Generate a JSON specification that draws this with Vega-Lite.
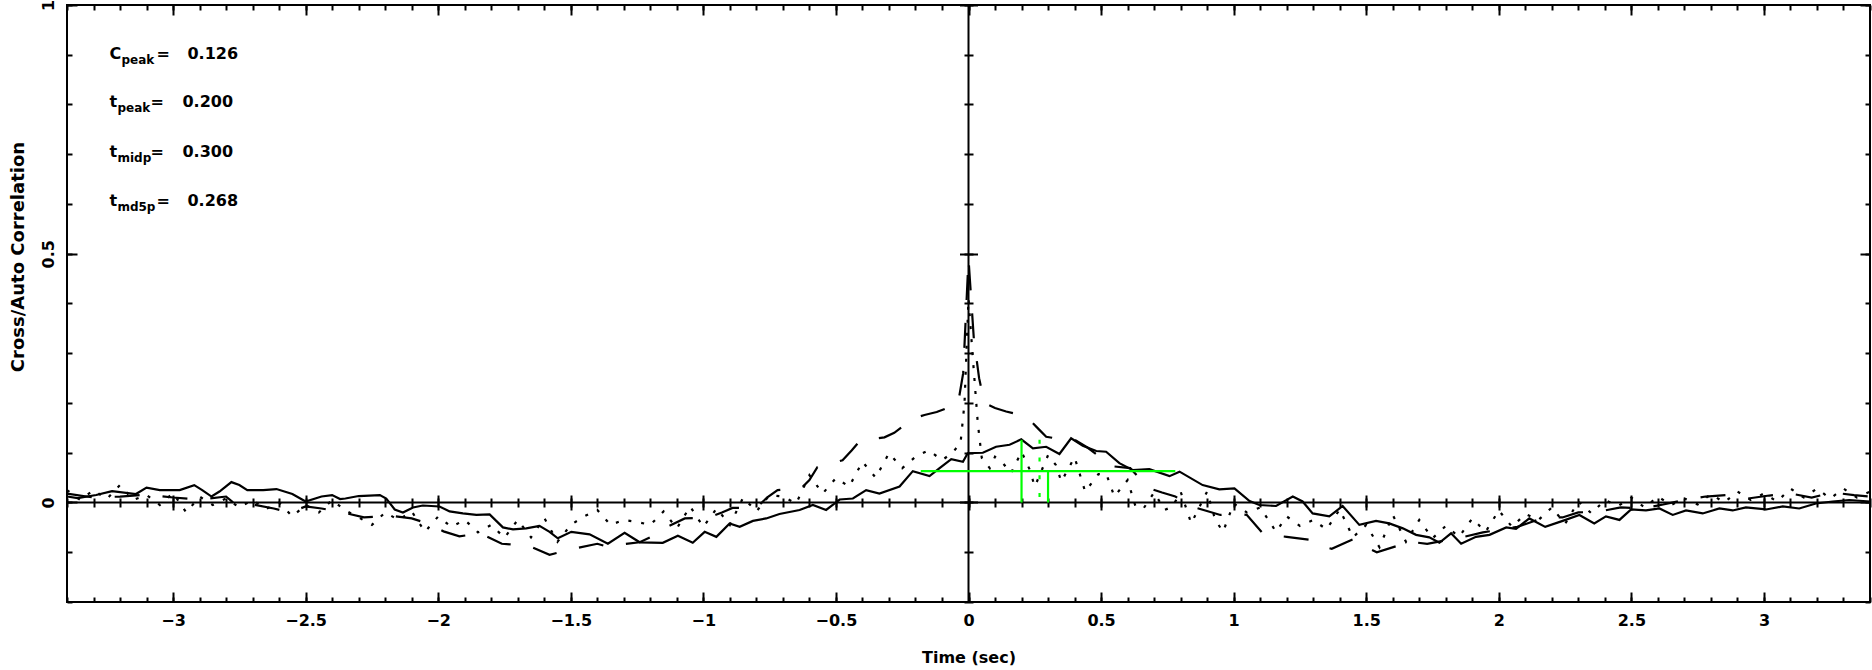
{
"$schema": "https://vega.github.io/schema/vega-lite/v6.json",
"width": 1803, "height": 597,
"autosize": {"type": "none"},
"padding": {"left": 67, "top": 5, "right": 2, "bottom": 68},
"background": "white",
"config": {
 "view": {"stroke": "black", "strokeWidth": 2},
 "axis": {"labelFont": "DejaVu Sans", "labelFontWeight": "bold", "labelFontSize": 16, "labelColor": "black",
  "titleFont": "DejaVu Sans", "titleFontWeight": "bold", "titleColor": "black", "tickColor": "black", "tickWidth": 2,
  "domain": false, "grid": false, "labelFlush": false, "labelOverlap": false, "zindex": 1}
},
"datasets": {
 "curves": [
  {"s":"cross","t":-3.4,"c":0.012},{"s":"cross","t":-3.36,"c":0.009},{"s":"cross","t":-3.29,"c":0.015},{"s":"cross","t":-3.23,"c":0.023},{"s":"cross","t":-3.14,"c":0.017},{"s":"cross","t":-3.1,"c":0.03},{"s":"cross","t":-3.05,"c":0.025},{"s":"cross","t":-2.975,"c":0.025},{"s":"cross","t":-2.92,"c":0.035},{"s":"cross","t":-2.89,"c":0.025},{"s":"cross","t":-2.855,"c":0.012},{"s":"cross","t":-2.825,"c":0.022},{"s":"cross","t":-2.78,"c":0.041},{"s":"cross","t":-2.75,"c":0.035},{"s":"cross","t":-2.72,"c":0.025},{"s":"cross","t":-2.66,"c":0.025},{"s":"cross","t":-2.61,"c":0.027},{"s":"cross","t":-2.55,"c":0.017},{"s":"cross","t":-2.5,"c":0.002},{"s":"cross","t":-2.44,"c":0.012},{"s":"cross","t":-2.4,"c":0.015},{"s":"cross","t":-2.37,"c":0.007},{"s":"cross","t":-2.35,"c":0.008},{"s":"cross","t":-2.3,"c":0.013},{"s":"cross","t":-2.22,"c":0.015},{"s":"cross","t":-2.196,"c":0.008},{"s":"cross","t":-2.164,"c":-0.014},{"s":"cross","t":-2.133,"c":-0.02},{"s":"cross","t":-2.095,"c":-0.01},{"s":"cross","t":-2.058,"c":-0.006},{"s":"cross","t":-1.995,"c":-0.008},{"s":"cross","t":-1.957,"c":-0.018},{"s":"cross","t":-1.907,"c":-0.022},{"s":"cross","t":-1.856,"c":-0.025},{"s":"cross","t":-1.806,"c":-0.024},{"s":"cross","t":-1.756,"c":-0.05},{"s":"cross","t":-1.718,"c":-0.054},{"s":"cross","t":-1.668,"c":-0.052},{"s":"cross","t":-1.618,"c":-0.047},{"s":"cross","t":-1.58,"c":-0.059},{"s":"cross","t":-1.549,"c":-0.072},{"s":"cross","t":-1.498,"c":-0.059},{"s":"cross","t":-1.429,"c":-0.064},{"s":"cross","t":-1.36,"c":-0.083},{"s":"cross","t":-1.297,"c":-0.061},{"s":"cross","t":-1.24,"c":-0.08},{"s":"cross","t":-1.153,"c":-0.081},{"s":"cross","t":-1.096,"c":-0.067},{"s":"cross","t":-1.04,"c":-0.081},{"s":"cross","t":-0.995,"c":-0.059},{"s":"cross","t":-0.951,"c":-0.069},{"s":"cross","t":-0.901,"c":-0.042},{"s":"cross","t":-0.863,"c":-0.049},{"s":"cross","t":-0.813,"c":-0.037},{"s":"cross","t":-0.763,"c":-0.032},{"s":"cross","t":-0.713,"c":-0.023},{"s":"cross","t":-0.637,"c":-0.015},{"s":"cross","t":-0.587,"c":-0.005},{"s":"cross","t":-0.537,"c":-0.015},{"s":"cross","t":-0.512,"c":-0.005},{"s":"cross","t":-0.486,"c":0.006},{"s":"cross","t":-0.436,"c":0.008},{"s":"cross","t":-0.386,"c":0.025},{"s":"cross","t":-0.336,"c":0.018},{"s":"cross","t":-0.26,"c":0.032},{"s":"cross","t":-0.21,"c":0.063},{"s":"cross","t":-0.147,"c":0.053},{"s":"cross","t":-0.109,"c":0.069},{"s":"cross","t":-0.065,"c":0.087},{"s":"cross","t":-0.021,"c":0.082},{"s":"cross","t":-0.003,"c":0.099},{"s":"cross","t":0.054,"c":0.1},{"s":"cross","t":0.104,"c":0.112},{"s":"cross","t":0.155,"c":0.116},{"s":"cross","t":0.199,"c":0.127},{"s":"cross","t":0.243,"c":0.109},{"s":"cross","t":0.293,"c":0.112},{"s":"cross","t":0.343,"c":0.0975},{"s":"cross","t":0.387,"c":0.129},{"s":"cross","t":0.431,"c":0.114},{"s":"cross","t":0.482,"c":0.1035},{"s":"cross","t":0.519,"c":0.102},{"s":"cross","t":0.569,"c":0.079},{"s":"cross","t":0.62,"c":0.065},{"s":"cross","t":0.682,"c":0.067},{"s":"cross","t":0.758,"c":0.053},{"s":"cross","t":0.796,"c":0.062},{"s":"cross","t":0.883,"c":0.035},{"s":"cross","t":0.946,"c":0.0265},{"s":"cross","t":1.003,"c":0.0285},{"s":"cross","t":1.06,"c":0.003},{"s":"cross","t":1.097,"c":-0.005},{"s":"cross","t":1.16,"c":-0.007},{"s":"cross","t":1.223,"c":0.012},{"s":"cross","t":1.26,"c":0.002},{"s":"cross","t":1.298,"c":-0.022},{"s":"cross","t":1.361,"c":-0.028},{"s":"cross","t":1.411,"c":-0.007},{"s":"cross","t":1.474,"c":-0.045},{"s":"cross","t":1.537,"c":-0.037},{"s":"cross","t":1.587,"c":-0.042},{"s":"cross","t":1.638,"c":-0.052},{"s":"cross","t":1.688,"c":-0.065},{"s":"cross","t":1.738,"c":-0.07},{"s":"cross","t":1.776,"c":-0.081},{"s":"cross","t":1.82,"c":-0.062},{"s":"cross","t":1.858,"c":-0.083},{"s":"cross","t":1.914,"c":-0.069},{"s":"cross","t":1.965,"c":-0.065},{"s":"cross","t":2.028,"c":-0.05},{"s":"cross","t":2.065,"c":-0.053},{"s":"cross","t":2.115,"c":-0.032},{"s":"cross","t":2.175,"c":-0.049},{"s":"cross","t":2.241,"c":-0.037},{"s":"cross","t":2.304,"c":-0.025},{"s":"cross","t":2.36,"c":-0.042},{"s":"cross","t":2.404,"c":-0.028},{"s":"cross","t":2.455,"c":-0.035},{"s":"cross","t":2.499,"c":-0.014},{"s":"cross","t":2.555,"c":-0.016},{"s":"cross","t":2.606,"c":-0.012},{"s":"cross","t":2.656,"c":-0.025},{"s":"cross","t":2.706,"c":-0.016},{"s":"cross","t":2.769,"c":-0.022},{"s":"cross","t":2.832,"c":-0.012},{"s":"cross","t":2.882,"c":-0.016},{"s":"cross","t":2.932,"c":-0.01},{"s":"cross","t":3.008,"c":-0.014},{"s":"cross","t":3.071,"c":-0.008},{"s":"cross","t":3.133,"c":-0.012},{"s":"cross","t":3.196,"c":-0.002},{"s":"cross","t":3.259,"c":0.002},{"s":"cross","t":3.322,"c":0.005},{"s":"cross","t":3.4,"c":0.002},
  {"s":"a1","t":-3.4,"c":0.018},{"s":"a1","t":-3.3,"c":0.01},{"s":"a1","t":-3.2,"c":0.012},{"s":"a1","t":-3.1,"c":0.016},{"s":"a1","t":-3.0,"c":0.01},{"s":"a1","t":-2.9,"c":0.006},{"s":"a1","t":-2.8,"c":0.012},{"s":"a1","t":-2.76,"c":-0.006},{"s":"a1","t":-2.7,"c":-0.004},{"s":"a1","t":-2.62,"c":-0.012},{"s":"a1","t":-2.56,"c":-0.02},{"s":"a1","t":-2.5,"c":-0.008},{"s":"a1","t":-2.44,"c":-0.012},{"s":"a1","t":-2.36,"c":-0.02},{"s":"a1","t":-2.28,"c":-0.03},{"s":"a1","t":-2.22,"c":-0.028},{"s":"a1","t":-2.16,"c":-0.028},{"s":"a1","t":-2.1,"c":-0.032},{"s":"a1","t":-2.04,"c":-0.042},{"s":"a1","t":-1.98,"c":-0.058},{"s":"a1","t":-1.92,"c":-0.068},{"s":"a1","t":-1.84,"c":-0.062},{"s":"a1","t":-1.76,"c":-0.083},{"s":"a1","t":-1.66,"c":-0.087},{"s":"a1","t":-1.58,"c":-0.105},{"s":"a1","t":-1.48,"c":-0.092},{"s":"a1","t":-1.4,"c":-0.083},{"s":"a1","t":-1.36,"c":-0.089},{"s":"a1","t":-1.32,"c":-0.085},{"s":"a1","t":-1.24,"c":-0.08},{"s":"a1","t":-1.2,"c":-0.07},{"s":"a1","t":-1.14,"c":-0.05},{"s":"a1","t":-1.07,"c":-0.032},{"s":"a1","t":-0.98,"c":-0.03},{"s":"a1","t":-0.93,"c":-0.02},{"s":"a1","t":-0.89,"c":-0.011},{"s":"a1","t":-0.8,"c":-0.011},{"s":"a1","t":-0.76,"c":0.01},{"s":"a1","t":-0.72,"c":0.025},{"s":"a1","t":-0.63,"c":0.029},{"s":"a1","t":-0.6,"c":0.045},{"s":"a1","t":-0.57,"c":0.071},{"s":"a1","t":-0.475,"c":0.085},{"s":"a1","t":-0.44,"c":0.105},{"s":"a1","t":-0.41,"c":0.124},{"s":"a1","t":-0.317,"c":0.131},{"s":"a1","t":-0.28,"c":0.14},{"s":"a1","t":-0.24,"c":0.156},{"s":"a1","t":-0.2,"c":0.17},{"s":"a1","t":-0.166,"c":0.176},{"s":"a1","t":-0.12,"c":0.182},{"s":"a1","t":-0.08,"c":0.19},{"s":"a1","t":-0.04,"c":0.197},{"s":"a1","t":-0.02,"c":0.26},{"s":"a1","t":0,"c":0.49},{"s":"a1","t":0.02,"c":0.33},{"s":"a1","t":0.04,"c":0.25},{"s":"a1","t":0.06,"c":0.2},{"s":"a1","t":0.1,"c":0.19},{"s":"a1","t":0.142,"c":0.183},{"s":"a1","t":0.18,"c":0.178},{"s":"a1","t":0.223,"c":0.17},{"s":"a1","t":0.26,"c":0.15},{"s":"a1","t":0.293,"c":0.132},{"s":"a1","t":0.34,"c":0.128},{"s":"a1","t":0.4,"c":0.126},{"s":"a1","t":0.45,"c":0.11},{"s":"a1","t":0.5,"c":0.09},{"s":"a1","t":0.54,"c":0.073},{"s":"a1","t":0.61,"c":0.069},{"s":"a1","t":0.68,"c":0.029},{"s":"a1","t":0.73,"c":0.02},{"s":"a1","t":0.78,"c":0.012},{"s":"a1","t":0.82,"c":0.0},{"s":"a1","t":0.86,"c":-0.011},{"s":"a1","t":0.95,"c":-0.025},{"s":"a1","t":1.0,"c":-0.022},{"s":"a1","t":1.05,"c":-0.025},{"s":"a1","t":1.11,"c":-0.062},{"s":"a1","t":1.15,"c":-0.066},{"s":"a1","t":1.2,"c":-0.069},{"s":"a1","t":1.29,"c":-0.075},{"s":"a1","t":1.33,"c":-0.088},{"s":"a1","t":1.37,"c":-0.093},{"s":"a1","t":1.455,"c":-0.073},{"s":"a1","t":1.5,"c":-0.09},{"s":"a1","t":1.54,"c":-0.1},{"s":"a1","t":1.63,"c":-0.085},{"s":"a1","t":1.68,"c":-0.08},{"s":"a1","t":1.73,"c":-0.083},{"s":"a1","t":1.81,"c":-0.075},{"s":"a1","t":1.86,"c":-0.07},{"s":"a1","t":1.94,"c":-0.06},{"s":"a1","t":2.0,"c":-0.055},{"s":"a1","t":2.07,"c":-0.049},{"s":"a1","t":2.178,"c":-0.029},{"s":"a1","t":2.24,"c":-0.03},{"s":"a1","t":2.3,"c":-0.02},{"s":"a1","t":2.38,"c":-0.018},{"s":"a1","t":2.46,"c":-0.01},{"s":"a1","t":2.54,"c":-0.012},{"s":"a1","t":2.62,"c":-0.004},{"s":"a1","t":2.7,"c":0.005},{"s":"a1","t":2.78,"c":0.012},{"s":"a1","t":2.86,"c":0.015},{"s":"a1","t":2.94,"c":0.008},{"s":"a1","t":3.02,"c":0.014},{"s":"a1","t":3.1,"c":0.018},{"s":"a1","t":3.18,"c":0.01},{"s":"a1","t":3.26,"c":0.02},{"s":"a1","t":3.34,"c":0.015},{"s":"a1","t":3.4,"c":0.012},
  {"s":"a2","t":-3.4,"c":0.025},{"s":"a2","t":-3.35,"c":0.005},{"s":"a2","t":-3.3,"c":0.025},{"s":"a2","t":-3.25,"c":0.007},{"s":"a2","t":-3.2,"c":0.035},{"s":"a2","t":-3.15,"c":0.005},{"s":"a2","t":-3.1,"c":0.015},{"s":"a2","t":-3.05,"c":-0.005},{"s":"a2","t":-3.0,"c":0.019},{"s":"a2","t":-2.95,"c":-0.02},{"s":"a2","t":-2.9,"c":0.012},{"s":"a2","t":-2.85,"c":-0.005},{"s":"a2","t":-2.8,"c":0.008},{"s":"a2","t":-2.75,"c":-0.01},{"s":"a2","t":-2.7,"c":0.005},{"s":"a2","t":-2.65,"c":-0.013},{"s":"a2","t":-2.6,"c":0.0},{"s":"a2","t":-2.55,"c":-0.028},{"s":"a2","t":-2.5,"c":-0.005},{"s":"a2","t":-2.45,"c":-0.02},{"s":"a2","t":-2.4,"c":0.005},{"s":"a2","t":-2.35,"c":-0.016},{"s":"a2","t":-2.3,"c":-0.03},{"s":"a2","t":-2.25,"c":-0.045},{"s":"a2","t":-2.2,"c":-0.02},{"s":"a2","t":-2.15,"c":-0.035},{"s":"a2","t":-2.1,"c":-0.018},{"s":"a2","t":-2.05,"c":-0.059},{"s":"a2","t":-2.0,"c":-0.028},{"s":"a2","t":-1.95,"c":-0.049},{"s":"a2","t":-1.9,"c":-0.035},{"s":"a2","t":-1.85,"c":-0.06},{"s":"a2","t":-1.8,"c":-0.045},{"s":"a2","t":-1.75,"c":-0.071},{"s":"a2","t":-1.7,"c":-0.035},{"s":"a2","t":-1.65,"c":-0.07},{"s":"a2","t":-1.6,"c":-0.031},{"s":"a2","t":-1.55,"c":-0.079},{"s":"a2","t":-1.5,"c":-0.045},{"s":"a2","t":-1.45,"c":-0.028},{"s":"a2","t":-1.4,"c":-0.015},{"s":"a2","t":-1.35,"c":-0.045},{"s":"a2","t":-1.3,"c":-0.035},{"s":"a2","t":-1.25,"c":-0.039},{"s":"a2","t":-1.2,"c":-0.045},{"s":"a2","t":-1.15,"c":-0.018},{"s":"a2","t":-1.1,"c":-0.052},{"s":"a2","t":-1.05,"c":-0.008},{"s":"a2","t":-1.0,"c":-0.049},{"s":"a2","t":-0.95,"c":-0.012},{"s":"a2","t":-0.9,"c":-0.045},{"s":"a2","t":-0.85,"c":0.01},{"s":"a2","t":-0.8,"c":-0.018},{"s":"a2","t":-0.75,"c":0.015},{"s":"a2","t":-0.7,"c":0.012},{"s":"a2","t":-0.65,"c":-0.002},{"s":"a2","t":-0.6,"c":0.055},{"s":"a2","t":-0.55,"c":0.018},{"s":"a2","t":-0.5,"c":0.049},{"s":"a2","t":-0.45,"c":0.032},{"s":"a2","t":-0.4,"c":0.082},{"s":"a2","t":-0.35,"c":0.05},{"s":"a2","t":-0.3,"c":0.099},{"s":"a2","t":-0.25,"c":0.069},{"s":"a2","t":-0.2,"c":0.092},{"s":"a2","t":-0.15,"c":0.105},{"s":"a2","t":-0.1,"c":0.085},{"s":"a2","t":-0.06,"c":0.1},{"s":"a2","t":-0.03,"c":0.12},{"s":"a2","t":-0.015,"c":0.2},{"s":"a2","t":0,"c":0.41},{"s":"a2","t":0.015,"c":0.3},{"s":"a2","t":0.035,"c":0.16},{"s":"a2","t":0.05,"c":0.09},{"s":"a2","t":0.08,"c":0.069},{"s":"a2","t":0.1,"c":0.092},{"s":"a2","t":0.13,"c":0.079},{"s":"a2","t":0.16,"c":0.059},{"s":"a2","t":0.2,"c":0.102},{"s":"a2","t":0.23,"c":0.067},{"s":"a2","t":0.25,"c":0.032},{"s":"a2","t":0.3,"c":0.095},{"s":"a2","t":0.33,"c":0.075},{"s":"a2","t":0.35,"c":0.042},{"s":"a2","t":0.4,"c":0.091},{"s":"a2","t":0.44,"c":0.022},{"s":"a2","t":0.49,"c":0.057},{"s":"a2","t":0.52,"c":0.057},{"s":"a2","t":0.55,"c":0.012},{"s":"a2","t":0.6,"c":0.045},{"s":"a2","t":0.63,"c":-0.008},{"s":"a2","t":0.66,"c":-0.012},{"s":"a2","t":0.7,"c":0.02},{"s":"a2","t":0.74,"c":-0.015},{"s":"a2","t":0.77,"c":-0.008},{"s":"a2","t":0.8,"c":0.022},{"s":"a2","t":0.84,"c":-0.042},{"s":"a2","t":0.9,"c":0.022},{"s":"a2","t":0.93,"c":-0.034},{"s":"a2","t":0.96,"c":-0.059},{"s":"a2","t":1.0,"c":-0.002},{"s":"a2","t":1.05,"c":-0.02},{"s":"a2","t":1.1,"c":-0.01},{"s":"a2","t":1.13,"c":-0.034},{"s":"a2","t":1.16,"c":-0.059},{"s":"a2","t":1.2,"c":-0.028},{"s":"a2","t":1.25,"c":-0.047},{"s":"a2","t":1.3,"c":-0.035},{"s":"a2","t":1.35,"c":-0.054},{"s":"a2","t":1.4,"c":-0.014},{"s":"a2","t":1.45,"c":-0.07},{"s":"a2","t":1.5,"c":-0.045},{"s":"a2","t":1.55,"c":-0.09},{"s":"a2","t":1.6,"c":-0.025},{"s":"a2","t":1.65,"c":-0.079},{"s":"a2","t":1.7,"c":-0.035},{"s":"a2","t":1.75,"c":-0.072},{"s":"a2","t":1.8,"c":-0.047},{"s":"a2","t":1.85,"c":-0.069},{"s":"a2","t":1.9,"c":-0.032},{"s":"a2","t":1.95,"c":-0.059},{"s":"a2","t":2.0,"c":-0.016},{"s":"a2","t":2.05,"c":-0.049},{"s":"a2","t":2.1,"c":-0.023},{"s":"a2","t":2.15,"c":-0.035},{"s":"a2","t":2.2,"c":-0.01},{"s":"a2","t":2.25,"c":-0.043},{"s":"a2","t":2.3,"c":0.002},{"s":"a2","t":2.35,"c":-0.022},{"s":"a2","t":2.4,"c":0.005},{"s":"a2","t":2.45,"c":-0.007},{"s":"a2","t":2.5,"c":0.01},{"s":"a2","t":2.55,"c":-0.01},{"s":"a2","t":2.6,"c":0.012},{"s":"a2","t":2.65,"c":-0.005},{"s":"a2","t":2.7,"c":0.008},{"s":"a2","t":2.75,"c":-0.004},{"s":"a2","t":2.8,"c":0.017},{"s":"a2","t":2.85,"c":0.0},{"s":"a2","t":2.9,"c":0.022},{"s":"a2","t":2.95,"c":0.005},{"s":"a2","t":3.0,"c":0.018},{"s":"a2","t":3.05,"c":0.002},{"s":"a2","t":3.1,"c":0.028},{"s":"a2","t":3.15,"c":0.01},{"s":"a2","t":3.2,"c":0.028},{"s":"a2","t":3.25,"c":0.008},{"s":"a2","t":3.3,"c":0.028},{"s":"a2","t":3.35,"c":0.01},{"s":"a2","t":3.4,"c":0.022}
 ],
 "green": [
  {"name":"half","x1":-0.18,"x2":0.78,"y1":0.063,"y2":0.063},
  {"name":"tpeak","x1":0.2,"x2":0.2,"y1":0,"y2":0.126},
  {"name":"tmidp","x1":0.3,"x2":0.3,"y1":0,"y2":0.063},
  {"name":"tmd5p","x1":0.268,"x2":0.268,"y1":0.126,"y2":0}
 ],
 "ann": [
  {"sym":"C","sub":"peak","val":"0.126","ty":0.9025},
  {"sym":"t","sub":"peak","val":"0.200","ty":0.8045},
  {"sym":"t","sub":"midp","val":"0.300","ty":0.704},
  {"sym":"t","sub":"md5p","val":"0.268","ty":0.606}
 ]
},
"layer": [
 {"data": {"name": "curves"}, "transform": [{"filter": "datum.s == 'cross'"}],
  "mark": {"type": "line", "color": "black", "strokeWidth": 2.2},
  "encoding": {
   "x": {"field": "t", "type": "quantitative", "scale": {"domain": [-3.4, 3.4], "nice": false, "zero": false},
    "axis": {"orient": "bottom", "values": [-3,-2.5,-2,-1.5,-1,-0.5,0,0.5,1,1.5,2,2.5,3], "format": "~g", "tickSize": -10, "labelPadding": 20, "title": "Time (sec)", "titleFontSize": 16, "titleY": 60, "titleBaseline": "alphabetic"}},
   "y": {"field": "c", "type": "quantitative", "scale": {"domain": [-0.2, 1], "nice": false, "zero": false},
    "axis": {"orient": "left", "values": [0, 0.5, 1], "format": "~g", "tickSize": -10, "labelAngle": 270, "labelAlign": "center", "labelBaseline": "bottom", "labelPadding": 20.5,
     "title": "Cross/Auto Correlation", "titleFontSize": 18, "titleAngle": 270, "titleX": -49, "titleY": 251.5, "titleAlign": "center", "titleBaseline": "middle"}}
  }},
 {"data": {"name": "curves"}, "transform": [{"filter": "datum.s == 'a1'"}],
  "mark": {"type": "line", "color": "black", "strokeWidth": 2.2, "strokeDash": [25, 23]},
  "encoding": {
   "x": {"field": "t", "type": "quantitative", "scale": {"domain": [-3.4, 3.4], "nice": false, "zero": false},
    "axis": {"orient": "bottom", "values": [-3.4,-3.3,-3.2,-3.1,-3,-2.9,-2.8,-2.7,-2.6,-2.5,-2.4,-2.3,-2.2,-2.1,-2,-1.9,-1.8,-1.7,-1.6,-1.5,-1.4,-1.3,-1.2,-1.1,-1,-0.9,-0.8,-0.7,-0.6,-0.5,-0.4,-0.3,-0.2,-0.1,0,0.1,0.2,0.3,0.4,0.5,0.6,0.7,0.8,0.9,1,1.1,1.2,1.3,1.4,1.5,1.6,1.7,1.8,1.9,2,2.1,2.2,2.3,2.4,2.5,2.6,2.7,2.8,2.9,3,3.1,3.2,3.3,3.4], "tickSize": -5, "labels": false, "title": null}},
   "y": {"field": "c", "type": "quantitative", "scale": {"domain": [-0.2, 1], "nice": false, "zero": false},
    "axis": {"orient": "left", "values": [-0.2,-0.1,0,0.1,0.2,0.3,0.4,0.5,0.6,0.7,0.8,0.9,1], "tickSize": -5, "labels": false, "title": null}}
  }},
 {"data": {"name": "curves"}, "transform": [{"filter": "datum.s == 'a2'"}],
  "mark": {"type": "line", "color": "black", "strokeWidth": 2.2, "strokeDash": [3, 10]},
  "encoding": {
   "x": {"field": "t", "type": "quantitative", "scale": {"domain": [-3.4, 3.4], "nice": false, "zero": false},
    "axis": {"orient": "top", "values": [-3,-2.5,-2,-1.5,-1,-0.5,0,0.5,1,1.5,2,2.5,3], "tickSize": -10, "labels": false, "title": null}},
   "y": {"field": "c", "type": "quantitative", "scale": {"domain": [-0.2, 1], "nice": false, "zero": false},
    "axis": {"orient": "right", "values": [0, 0.5, 1], "tickSize": -10, "labels": false, "title": null}}
  }},
 {"data": {"values": [{}]}, "mark": {"type": "rule", "color": "black", "strokeWidth": 2},
  "encoding": {"y": {"datum": 0, "type": "quantitative", "scale": {"domain": [-0.2, 1], "nice": false, "zero": false}, "axis": null}}},
 {"data": {"values": [{}]}, "mark": {"type": "rule", "color": "black", "strokeWidth": 2},
  "encoding": {"x": {"datum": 0, "type": "quantitative", "scale": {"domain": [-3.4, 3.4], "nice": false, "zero": false}, "axis": null}}},
 {"data": {"name": "green"}, "transform": [{"filter": "datum.name == 'half'"}],
  "mark": {"type": "rule", "color": "#00ff00", "strokeWidth": 2.2},
  "encoding": {
   "x": {"field": "x1", "type": "quantitative", "scale": {"domain": [-3.4, 3.4], "nice": false, "zero": false},
    "axis": {"orient": "top", "values": [-3.4,-3.3,-3.2,-3.1,-3,-2.9,-2.8,-2.7,-2.6,-2.5,-2.4,-2.3,-2.2,-2.1,-2,-1.9,-1.8,-1.7,-1.6,-1.5,-1.4,-1.3,-1.2,-1.1,-1,-0.9,-0.8,-0.7,-0.6,-0.5,-0.4,-0.3,-0.2,-0.1,0,0.1,0.2,0.3,0.4,0.5,0.6,0.7,0.8,0.9,1,1.1,1.2,1.3,1.4,1.5,1.6,1.7,1.8,1.9,2,2.1,2.2,2.3,2.4,2.5,2.6,2.7,2.8,2.9,3,3.1,3.2,3.3,3.4], "tickSize": -5, "labels": false, "title": null}},
   "x2": {"field": "x2"},
   "y": {"field": "y1", "type": "quantitative", "scale": {"domain": [-0.2, 1], "nice": false, "zero": false},
    "axis": {"orient": "right", "values": [-0.2,-0.1,0,0.1,0.2,0.3,0.4,0.5,0.6,0.7,0.8,0.9,1], "tickSize": -5, "labels": false, "title": null}}
  }},
 {"data": {"name": "green"}, "transform": [{"filter": "datum.name == 'tpeak' || datum.name == 'tmidp'"}],
  "mark": {"type": "rule", "color": "#00ff00", "strokeWidth": 2.2},
  "encoding": {
   "x": {"field": "x1", "type": "quantitative", "scale": {"domain": [-3.4, 3.4], "nice": false, "zero": false},
    "axis": {"orient": "bottom", "offset": -107, "values": [-3,-2.5,-2,-1.5,-1,-0.5,0,0.5,1,1.5,2,2.5,3], "tickSize": 15, "labels": false, "title": null}},
   "y": {"field": "y1", "type": "quantitative", "scale": {"domain": [-0.2, 1], "nice": false, "zero": false},
    "axis": {"orient": "left", "offset": -910.5, "values": [0, 0.5, 1], "tickSize": 18, "labels": false, "title": null}},
   "y2": {"field": "y2"}
  }},
 {"data": {"name": "green"}, "transform": [{"filter": "datum.name == 'tmd5p'"}],
  "mark": {"type": "rule", "color": "#00ff00", "strokeWidth": 2.2, "strokeDash": [4, 13.7]},
  "encoding": {
   "x": {"field": "x1", "type": "quantitative", "scale": {"domain": [-3.4, 3.4], "nice": false, "zero": false},
    "axis": {"orient": "bottom", "offset": -104, "values": [-3.4,-3.3,-3.2,-3.1,-3,-2.9,-2.8,-2.7,-2.6,-2.5,-2.4,-2.3,-2.2,-2.1,-2,-1.9,-1.8,-1.7,-1.6,-1.5,-1.4,-1.3,-1.2,-1.1,-1,-0.9,-0.8,-0.7,-0.6,-0.5,-0.4,-0.3,-0.2,-0.1,0,0.1,0.2,0.3,0.4,0.5,0.6,0.7,0.8,0.9,1,1.1,1.2,1.3,1.4,1.5,1.6,1.7,1.8,1.9,2,2.1,2.2,2.3,2.4,2.5,2.6,2.7,2.8,2.9,3,3.1,3.2,3.3,3.4], "tickSize": 9, "labels": false, "title": null}},
   "y": {"field": "y1", "type": "quantitative", "scale": {"domain": [-0.2, 1], "nice": false, "zero": false},
    "axis": {"orient": "left", "offset": -906, "values": [-0.2,-0.1,0,0.1,0.2,0.3,0.4,0.5,0.6,0.7,0.8,0.9,1], "tickSize": 9, "labels": false, "title": null}},
   "y2": {"field": "y2"}
  }},
 {"data": {"name": "ann"},
  "mark": {"type": "text", "font": "DejaVu Sans", "fontWeight": "bold", "fontSize": 16, "align": "left", "baseline": "middle", "color": "black"},
  "encoding": {"x": {"datum": -3.24, "type": "quantitative", "scale": {"domain": [-3.4, 3.4], "nice": false, "zero": false}, "axis": null},
   "y": {"field": "ty", "type": "quantitative", "scale": {"domain": [-0.2, 1], "nice": false, "zero": false}, "axis": null}, "text": {"field": "sym"}}},
 {"data": {"name": "ann"}, "transform": [{"filter": "datum.sym == 'C'"}],
  "mark": {"type": "text", "font": "DejaVu Sans", "fontWeight": "bold", "fontSize": 12, "align": "left", "baseline": "middle", "color": "black", "dx": 12, "dy": 6},
  "encoding": {"x": {"datum": -3.24, "type": "quantitative", "axis": null},
   "y": {"field": "ty", "type": "quantitative", "axis": null}, "text": {"field": "sub"}}},
 {"data": {"name": "ann"}, "transform": [{"filter": "datum.sym == 't'"}],
  "mark": {"type": "text", "font": "DejaVu Sans", "fontWeight": "bold", "fontSize": 12, "align": "left", "baseline": "middle", "color": "black", "dx": 8, "dy": 6},
  "encoding": {"x": {"datum": -3.24, "type": "quantitative", "axis": null},
   "y": {"field": "ty", "type": "quantitative", "axis": null}, "text": {"field": "sub"}}},
 {"data": {"name": "ann"}, "transform": [{"filter": "datum.sym == 'C' || datum.sub == 'md5p'"}],
  "mark": {"type": "text", "font": "DejaVu Sans", "fontWeight": "bold", "fontSize": 16, "align": "left", "baseline": "middle", "color": "black", "dx": 47},
  "encoding": {"x": {"datum": -3.24, "type": "quantitative", "axis": null},
   "y": {"field": "ty", "type": "quantitative", "axis": null}, "text": {"value": "="}}},
 {"data": {"name": "ann"}, "transform": [{"filter": "datum.sym == 't' && datum.sub != 'md5p'"}],
  "mark": {"type": "text", "font": "DejaVu Sans", "fontWeight": "bold", "fontSize": 16, "align": "left", "baseline": "middle", "color": "black", "dx": 41},
  "encoding": {"x": {"datum": -3.24, "type": "quantitative", "axis": null},
   "y": {"field": "ty", "type": "quantitative", "axis": null}, "text": {"value": "="}}},
 {"data": {"name": "ann"}, "transform": [{"filter": "datum.sym == 'C' || datum.sub == 'md5p'"}],
  "mark": {"type": "text", "font": "DejaVu Sans", "fontWeight": "bold", "fontSize": 16, "align": "left", "baseline": "middle", "color": "black", "dx": 78},
  "encoding": {"x": {"datum": -3.24, "type": "quantitative", "axis": null},
   "y": {"field": "ty", "type": "quantitative", "axis": null}, "text": {"field": "val"}}},
 {"data": {"name": "ann"}, "transform": [{"filter": "datum.sym == 't' && datum.sub != 'md5p'"}],
  "mark": {"type": "text", "font": "DejaVu Sans", "fontWeight": "bold", "fontSize": 16, "align": "left", "baseline": "middle", "color": "black", "dx": 73},
  "encoding": {"x": {"datum": -3.24, "type": "quantitative", "axis": null},
   "y": {"field": "ty", "type": "quantitative", "axis": null}, "text": {"field": "val"}}}
],
"resolve": {"axis": {"x": "independent", "y": "independent"}}
}
